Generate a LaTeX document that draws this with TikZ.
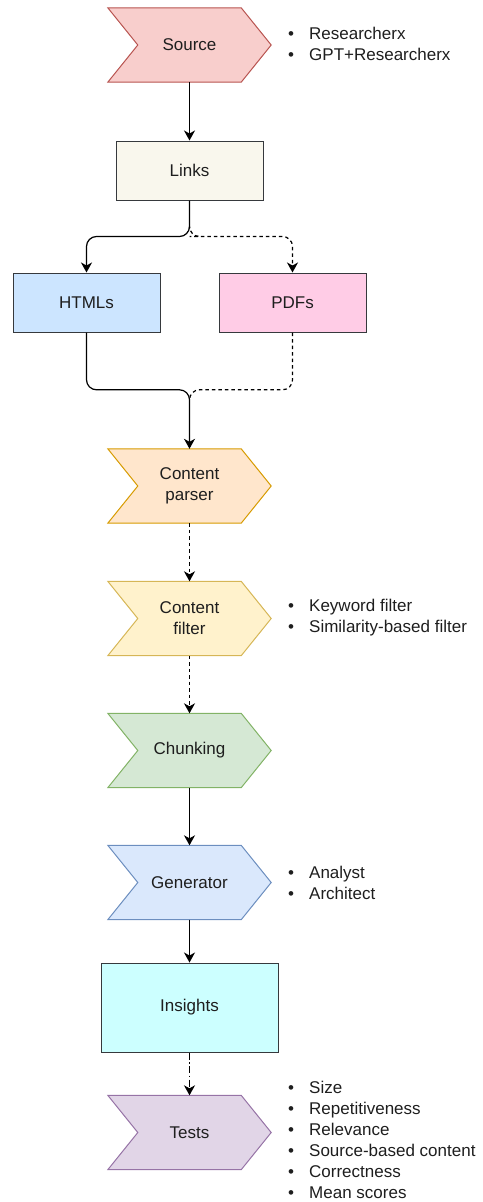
\documentclass[tikz,border=0pt]{standalone}
\usepackage{fontspec}
\setmainfont{Liberation Sans}
\usetikzlibrary{arrows.meta,backgrounds}

\definecolor{srcfill}{HTML}{F8CECC}\definecolor{srcline}{HTML}{B85450}
\definecolor{lnkfill}{HTML}{F9F7ED}\definecolor{boxline}{HTML}{36393D}
\definecolor{htmfill}{HTML}{CCE5FF}\definecolor{pdffill}{HTML}{FFCCE6}
\definecolor{parfill}{HTML}{FFE6CC}\definecolor{parline}{HTML}{D79B00}
\definecolor{filfill}{HTML}{FFF2CC}\definecolor{filline}{HTML}{D6B656}
\definecolor{chkfill}{HTML}{D5E8D4}\definecolor{chkline}{HTML}{82B366}
\definecolor{genfill}{HTML}{DAE8FC}\definecolor{genline}{HTML}{6C8EBF}
\definecolor{insfill}{HTML}{CCFFFF}
\definecolor{tstfill}{HTML}{E1D5E7}\definecolor{tstline}{HTML}{9673A6}
\definecolor{ink}{HTML}{1E1E1E}

\newcommand\chev[3]{%
  \draw[fill=#2,draw=#3,line width=1pt,line join=miter]
    (#1.north west) -- ([xshift=-30pt]#1.north east) -- (#1.east)
    -- ([xshift=-30pt]#1.south east) -- (#1.south west)
    -- ([xshift=30pt]#1.west) -- cycle;}

\tikzset{
  txt/.style={font=\fontsize{17}{21}\selectfont, text=ink, align=center},
  stepnode/.style={txt, minimum width=163pt, minimum height=74pt, inner sep=0pt},
  boxnode/.style={txt, draw=boxline, line width=1pt, inner sep=0pt},
  notes/.style={font=\fontsize{17}{21}\selectfont, text=ink, align=left, anchor=west, inner sep=0pt},
  flow/.style={line width=1.2pt, -{Stealth[length=10pt,width=11pt,inset=3pt]}},
  flowline/.style={line width=1.2pt},
  dashflow/.style={dash pattern=on 3.5pt off 3pt},
  dashdotflow/.style={dash pattern=on 7pt off 2.5pt on 1.5pt off 2.5pt},
}
\newcommand\bul{\makebox[21pt][l]{•}}

\begin{document}
\begin{tikzpicture}[x=1pt,y=-1pt]
\useasboundingbox (0,0) rectangle (482,1202);

% process steps
\node[stepnode] (src) at (189.5,45) {Source};
\node[boxnode, fill=lnkfill, minimum width=147pt, minimum height=59pt] (lnk) at (189.5,170.5) {Links};
\node[boxnode, fill=htmfill, minimum width=147pt, minimum height=59pt] (htm) at (86.5,302.5) {HTMLs};
\node[boxnode, fill=pdffill, minimum width=147pt, minimum height=59pt] (pdf) at (292.5,302.5) {PDFs};
\node[stepnode] (par) at (189.5,486) {Content\\parser};
\node[stepnode] (fil) at (189.5,618.5) {Content\\filter};
\node[stepnode] (chk) at (189.5,750.5) {Chunking};
\node[stepnode] (gen) at (189.5,882.5) {Generator};
\node[boxnode, fill=insfill, minimum width=177pt, minimum height=89pt] (ins) at (189.5,1007.5) {Insights};
\node[stepnode] (tst) at (189.5,1132.5) {Tests};

\begin{scope}[on background layer]
  \chev{src}{srcfill}{srcline}
  \chev{par}{parfill}{parline}
  \chev{fil}{filfill}{filline}
  \chev{chk}{chkfill}{chkline}
  \chev{gen}{genfill}{genline}
  \chev{tst}{tstfill}{tstline}
\end{scope}

% side notes
\node[notes] (srcn) at (288,44) {\bul Researcherx\\\bul GPT+Researcherx};
\node[notes] (filn) at (288,617.5) {\bul Keyword filter\\\bul Similarity-based filter};
\node[notes] (genn) at (288,883) {\bul Analyst\\\bul Architect};
\node[notes] (tstn) at (288,1139.5) {\bul Size\\\bul Repetitiveness\\\bul Relevance\\\bul Source-based content\\\bul Correctness\\\bul Mean scores};

% split below Links and merge above the parser
\coordinate (split) at ([yshift=-28pt]lnk.south);
\coordinate (merge) at ([yshift=59pt]par.north);

% connectors
\draw[flow] (src) -- (lnk);
\draw[flow, rounded corners=10pt] (lnk.south) -- ++(0,36) -| (htm.north);
\draw[flow, dashflow, rounded corners=10pt] (split) |- ++(10,8) -| (pdf.north);
\draw[flow, rounded corners=10pt] (htm.south) |- (merge) -- (par.north);
\draw[flowline, dashflow, rounded corners=10pt] (pdf.south) |- (merge) -- ++(0,9);
\draw[flow, dashflow] (par) -- (fil);
\draw[flow, dashflow] (fil) -- (chk);
\draw[flow] (chk) -- (gen);
\draw[flow] (gen) -- (ins);
\draw[flow, dashdotflow] (ins) -- (tst);
\end{tikzpicture}
\end{document}
